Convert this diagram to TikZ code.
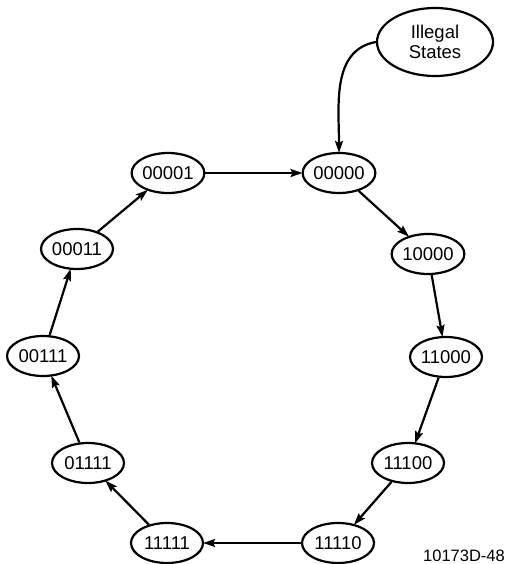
\documentclass[tikz,border=0pt]{standalone}
\usepackage{fontspec}
\setmainfont{Liberation Sans}
\usetikzlibrary{shapes.geometric,arrows.meta}
\begin{document}
\begin{tikzpicture}[x=1pt,y=-1pt,
  state/.style={ellipse,draw,line width=2.2pt,minimum width=72pt,minimum height=40pt,inner sep=0pt,font=\fontsize{18.5}{20}\selectfont},
  conn/.style={line width=2.2pt,-{Stealth[length=12pt,width=8pt,inset=2pt]},shorten >=-1pt}]
\useasboundingbox (0,0) rectangle (510,564);
\node[state,minimum width=116pt,minimum height=68pt,align=center,font=\fontsize{18.5}{20}\selectfont] (ill) at (435,42) {Illegal\\States};
\node[state] (s0) at (339,173) {00000};
\node[state] (s1) at (428,254) {10000};
\node[state] (s2) at (446,357) {11000};
\node[state] (s3) at (408,463) {11100};
\node[state] (s4) at (338,543) {11110};
\node[state] (s5) at (167,543) {11111};
\node[state] (s6) at (88,463) {01111};
\node[state] (s7) at (43,356) {00111};
\node[state] (s8) at (77,249) {00011};
\node[state] (s9) at (168,173) {00001};
\node[font=\fontsize{16.5}{18}\selectfont] (lab) at (464,556) {10173D-48};
\draw[conn] (ill.west) to[out=190,in=90] (s0.north);
\draw[conn] (s9) -- (s0);
\draw[conn] (s0) -- (s1);
\draw[conn] (s1) -- (s2);
\draw[conn] (s2) -- (s3);
\draw[conn] (s3) -- (s4);
\draw[conn] (s4) -- (s5);
\draw[conn] (s5) -- (s6);
\draw[conn] (s6) -- (s7);
\draw[conn] (s7) -- (s8);
\draw[conn] (s8) -- (s9);
\end{tikzpicture}
\end{document}
